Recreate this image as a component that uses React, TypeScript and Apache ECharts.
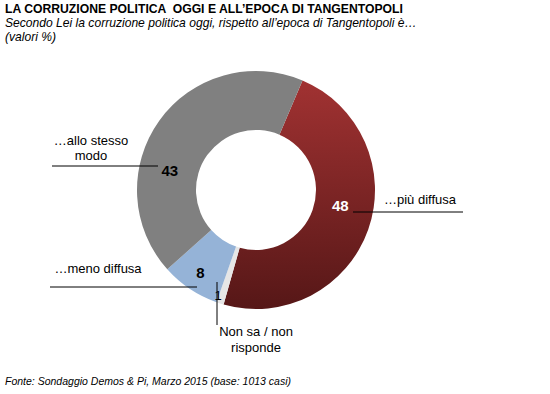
import React, { useEffect, useRef } from "react";
import * as echarts from "echarts";

const categories = ["…più diffusa", "Non sa / non\nrisponde", "…meno diffusa", "…allo stesso\nmodo"];
const values = [48, 1, 8, 43];
const titleText = "LA CORRUZIONE POLITICA  OGGI E ALL’EPOCA DI TANGENTOPOLI";
const subtitleText = "Secondo Lei la corruzione politica oggi, rispetto all’epoca di Tangentopoli è…";
const unitText = "(valori %)";
const sourceText = "Fonte: Sondaggio Demos & Pi, Marzo 2015 (base: 1013 casi)";

const sliceColors: any[] = [
  { type: "linear", x: 0, y: 0, x2: 0, y2: 1, colorStops: [{ offset: 0, color: "#a13232" }, { offset: 1, color: "#561717" }] },
  "#e6e6e6",
  "#95b3d7",
  "#808080",
];
const labelStyles = [
  { color: "#ffffff", fontWeight: "bold", fontSize: 15, offset: [-3, -15] },
  { color: "#000000", fontWeight: "normal", fontSize: 13, offset: [-10, 17] },
  { color: "#000000", fontWeight: "bold", fontSize: 15, offset: [-4, 6] },
  { color: "#000000", fontWeight: "bold", fontSize: 15, offset: [-11, 34] },
];
const namePositions = [
  { x: 420, y: 199, lh: 15 },
  { x: 256, y: 339, lh: 16 },
  { x: 98, y: 268, lh: 15 },
  { x: 91, y: 147.5, lh: 15 },
];
const leaderLines = [
  [353, 212, 463, 212],
  [217, 282, 217, 325],
  [50, 287, 197, 287],
  [52, 166, 158, 166],
];

export default function App() {
  const ref = useRef<HTMLDivElement>(null);
  useEffect(() => {
    document.body.style.margin = "0";
    const chart = echarts.init(ref.current!, null, { renderer: "svg" });
    const font = "Arial, 'Liberation Sans', sans-serif";
    const graphics: any[] = [
      { type: "text", left: 5, top: 3, style: { text: titleText, font: `bold 12.2px ${font}`, fill: "#000" } },
      { type: "text", left: 5, top: 17, style: { text: subtitleText, font: `italic 12.1px ${font}`, fill: "#000" } },
      { type: "text", left: 5, top: 31, style: { text: unitText, font: `italic 12.1px ${font}`, fill: "#000" } },
      { type: "text", left: 5, top: 375, style: { text: sourceText, font: `italic 10.5px ${font}`, fill: "#000" } },
    ];
    categories.forEach((c, i) => {
      const p = namePositions[i];
      graphics.push({
        type: "text",
        x: p.x,
        y: p.y,
        style: { text: c, font: `13px ${font}`, fill: "#000", align: "center", verticalAlign: "middle", lineHeight: p.lh },
        z: 10,
      });
      const l = leaderLines[i];
      graphics.push({
        type: "line",
        shape: { x1: l[0], y1: l[1], x2: l[2], y2: l[3] },
        style: { stroke: "#000", lineWidth: 1 },
        z: 10,
      });
    });
    chart.setOption({
      animation: false,
      graphic: graphics,
      series: [
        {
          type: "pie",
          center: [256, 190],
          radius: [60, 119],
          startAngle: 67,
          clockwise: true,
          avoidLabelOverlap: false,
          data: values.map((v, i) => ({
            value: v,
            name: categories[i],
            itemStyle: { color: sliceColors[i] },
            label: {
              show: true,
              position: "inside",
              formatter: "{c}",
              fontFamily: font,
              color: labelStyles[i].color,
              fontWeight: labelStyles[i].fontWeight,
              fontSize: labelStyles[i].fontSize,
              offset: labelStyles[i].offset,
            },
          })),
          labelLine: { show: false },
          emphasis: { disabled: true },
        },
      ],
    });
    return () => chart.dispose();
  }, []);
  return <div ref={ref} style={{ width: 550, height: 394, background: "#fff" }} />;
}
